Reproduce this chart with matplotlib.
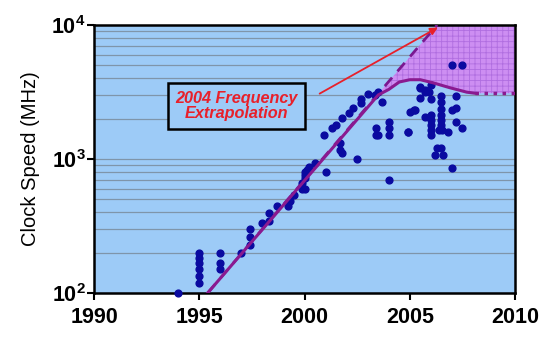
import numpy as np
import matplotlib.pyplot as plt

plt.rcParams['font.family'] = ['Liberation Sans', 'DejaVu Sans']
plt.rcParams['mathtext.fontset'] = 'custom'
plt.rcParams['mathtext.rm'] = 'Liberation Sans'
plt.rcParams['mathtext.bf'] = 'Liberation Sans:bold'
plt.rcParams['hatch.linewidth'] = 0.6
plt.rcParams['hatch.color'] = '#b06ee0'

# processor data points (year, MHz)
years = [1994.0, 1995.0, 1995.0, 1995.0, 1995.0, 1995.0, 1995.0,
         1996.0, 1996.0, 1996.0, 1997.0, 1997.4, 1997.4, 1997.4,
         1998.0, 1998.3, 1998.3, 1998.7, 1999.2, 1999.3, 1999.5,
         1999.9, 2000.0, 1999.9, 2000.0, 2000.0, 2000.0, 2000.2,
         2000.5, 2000.1, 2001.0, 2000.9, 2001.3, 2001.5, 2001.8,
         2002.1, 2002.3, 2002.7, 2002.7, 2003.0, 2003.35, 2003.5,
         2003.7, 2001.7, 2001.7, 2001.8, 2002.5, 2004.0, 2004.0,
         2003.4, 2004.0, 2003.4, 2003.5, 2004.0, 2004.9, 2005.0,
         2005.25, 2005.5, 2005.5, 2005.7,
         2007.0, 2007.5, 2005.5, 2005.7, 2006.0, 2005.9, 2006.0,
         2006.5, 2007.2, 2006.5, 2005.2, 2006.5, 2007.0, 2007.2,
         2005.7, 2006.0, 2006.5, 2006.0, 2006.5, 2006.0, 2006.5,
         2007.2, 2007.5, 2004.9, 2006.0, 2006.4, 2006.55, 2006.8,
         2006.0, 2006.3, 2006.5, 2006.2, 2006.6, 2007.0]
mhz = [100, 200, 182, 168, 151, 134, 119,
       200, 166, 150, 200, 300, 262, 228,
       333, 395, 344, 447, 447, 486, 540,
       597, 597, 662, 724, 760, 800, 870,
       933, 828, 800, 1510, 1700, 1790, 2020,
       2190, 2400, 2620, 2800, 3060, 3010, 3170,
       2660, 1320, 1170, 1110, 1000, 1890, 1700,
       1700, 1510, 1510, 1510, 700, 1590, 2240,
       2320, 3390, 2850, 3170,
       5000, 5000, 3440, 3270, 3560, 3170, 2810,
       2950, 2950, 2660, 2320, 2360, 2320, 2400,
       2060, 2140, 2140, 1950, 1950, 1790, 1790,
       1890, 1700, 1590, 1645, 1645, 1645, 1600,
       1510, 1210, 1210, 1070, 1070, 860]

# 2004 extrapolation trend (log-linear)
trend_years = [1995.4, 2006.3]
trend_mhz = [100, 10000]

# actual trend after flattening
curve_years = [1995.4, 2003.5, 2004.0, 2004.5, 2005.0, 2005.5, 2006.1, 2006.9, 2007.7, 2008.1]
curve_mhz = [100, 3000, 3300, 3750, 3900, 3900, 3700, 3400, 3150, 3090]
flat_years = [2008.1, 2010]
flat_mhz = [3090, 3090]

fig = plt.figure(figsize=(5.41, 3.37), dpi=100)
ax = fig.add_axes([0.174, 0.131, 0.778, 0.795])
ax.set_facecolor('#9dcbf7')
ax.set_yscale('log')
ax.set_xlim(1990, 2010)
ax.set_ylim(100, 10000)

# horizontal grid lines
for dec in [100, 1000]:
    for m in range(1, 10):
        ax.axhline(dec * m, color='#7f95aa', lw=0.9, zorder=1)

# shaded region between extrapolation and actual curve
fx = np.linspace(2003.5, 2010, 300)
slope = (np.log10(trend_mhz[1]) - np.log10(trend_mhz[0])) / (trend_years[1] - trend_years[0])
upper = np.minimum(10 ** (np.log10(trend_mhz[0]) + slope * (fx - trend_years[0])), 10000)
lower = 10 ** np.interp(fx, curve_years + flat_years[1:], np.log10(curve_mhz + flat_mhz[1:]))
ax.fill_between(fx, lower, upper, where=upper > lower, facecolor='#cd8ef2',
                hatch='+++', lw=0, zorder=2)

ax.scatter(years, mhz, s=24, color='#0a0aa0', zorder=4, clip_on=False)

# dashed extrapolation
ax.plot(trend_years, trend_mhz, color='#7a1890', lw=2, ls=(0, (4, 3)), zorder=3)
ax.plot(curve_years, curve_mhz, color='#8a1a90', lw=2.2, zorder=5)
ax.plot(flat_years, flat_mhz, color='#8a1a90', lw=2.5, ls=(0, (1, 1.6)), zorder=5)

ax.annotate('', xy=(2006.45, 9800), xytext=(2000.6, 3000),
            arrowprops=dict(arrowstyle='-|>', color='#e8202a', lw=1.3, mutation_scale=11),
            zorder=6)
ax.text(1996.75, 2480, '2004 Frequency\nExtrapolation', color='#e8202a',
        fontsize=11.7, fontweight='bold', fontstyle='italic', ha='center', va='center',
        linespacing=1.05, zorder=7,
        bbox=dict(boxstyle='square,pad=0.45', facecolor='#9dcbf7', edgecolor='black', lw=1.8))

ax.set_xticks([1990, 1995, 2000, 2005, 2010])
ax.set_xticklabels(['1990', '1995', '2000', '2005', '2010'], fontsize=15.5, fontweight='bold')
ax.set_yticks([100, 1000, 10000])
ax.set_yticklabels(['$\\mathbf{10^2}$', '$\\mathbf{10^3}$', '$\\mathbf{10^4}$'], fontsize=15.5)
ax.minorticks_off()
ax.tick_params(axis='both', direction='out', length=5, width=1.5, color='black')
ax.tick_params(axis='y', pad=1)
ax.tick_params(axis='x', pad=5)
ax.set_ylabel('Clock Speed (MHz)', fontsize=14.5, labelpad=8)
for s in ax.spines.values():
    s.set_linewidth(1.8)

fig.savefig('out.png', dpi=100)
